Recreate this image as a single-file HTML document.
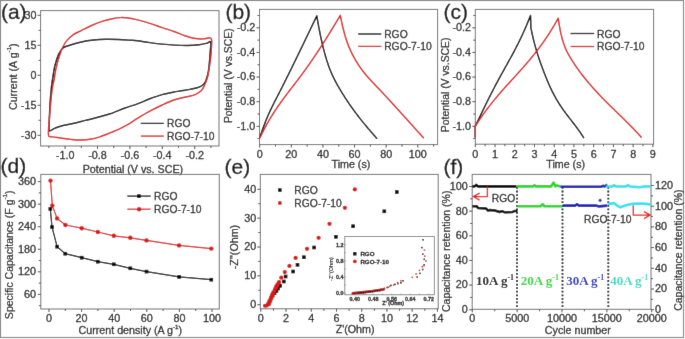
<!DOCTYPE html>
<html><head><meta charset="utf-8"><title>Figure</title>
<style>
html,body{margin:0;padding:0;background:#fff;overflow:hidden;}
svg{display:block;will-change:transform;}
text{font-family:"Liberation Sans",sans-serif;stroke-width:0.28px;}
</style></head><body>
<svg xmlns="http://www.w3.org/2000/svg" width="685" height="339" viewBox="0 0 685 339">
<defs><filter id="soft" x="0" y="0" width="685" height="339" filterUnits="userSpaceOnUse"><feConvolveMatrix order="3" kernelMatrix="0.00524 0.06192 0.00524 0.06192 0.73137 0.06192 0.00524 0.06192 0.00524" edgeMode="duplicate"/></filter></defs>
<g filter="url(#soft)">
<rect x="0" y="0" width="685" height="339" fill="#fff"/>
<rect x="0.5" y="0.5" width="683" height="337" fill="none" stroke="#8a8a8a" stroke-width="1.2"/>
<rect x="40.6" y="10.6" width="178.4" height="135.4" fill="none" stroke="#707070" stroke-width="1"/>
<path d="M65.1,146v3M97.5,146v3M129.9,146v3M162.3,146v3M194.7,146v3" stroke="#4a4a4a" stroke-width="1"/>
<path d="M48.9,146v2M81.3,146v2M113.7,146v2M146.1,146v2M178.5,146v2M210.9,146v2" stroke="#4a4a4a" stroke-width="1"/>
<path d="M40.6,135.3h-3M40.6,105.3h-3M40.6,75.3h-3M40.6,45.3h-3M40.6,15.3h-3" stroke="#4a4a4a" stroke-width="1"/>
<path d="M40.6,120.3h-2M40.6,90.3h-2M40.6,60.3h-2M40.6,30.3h-2" stroke="#4a4a4a" stroke-width="1"/>
<text x="36.4" y="138.65" font-size="10.8" text-anchor="end" fill="#1a1a1a" stroke="#1a1a1a">-30</text>
<text x="36.4" y="108.65" font-size="10.8" text-anchor="end" fill="#1a1a1a" stroke="#1a1a1a">-15</text>
<text x="36.4" y="78.65" font-size="10.8" text-anchor="end" fill="#1a1a1a" stroke="#1a1a1a">0</text>
<text x="36.4" y="48.65" font-size="10.8" text-anchor="end" fill="#1a1a1a" stroke="#1a1a1a">15</text>
<text x="36.4" y="18.65" font-size="10.8" text-anchor="end" fill="#1a1a1a" stroke="#1a1a1a">30</text>
<text x="65.1" y="158.5" font-size="10.8" text-anchor="middle" fill="#1a1a1a" stroke="#1a1a1a">-1.0</text>
<text x="97.5" y="158.5" font-size="10.8" text-anchor="middle" fill="#1a1a1a" stroke="#1a1a1a">-0.8</text>
<text x="129.9" y="158.5" font-size="10.8" text-anchor="middle" fill="#1a1a1a" stroke="#1a1a1a">-0.6</text>
<text x="162.3" y="158.5" font-size="10.8" text-anchor="middle" fill="#1a1a1a" stroke="#1a1a1a">-0.4</text>
<text x="194.7" y="158.5" font-size="10.8" text-anchor="middle" fill="#1a1a1a" stroke="#1a1a1a">-0.2</text>
<text x="132.9" y="172.9" font-size="10.7" text-anchor="middle" fill="#1a1a1a" stroke="#1a1a1a">Potential (V vs. SCE)</text>
<text transform="translate(16.5,76.7) rotate(-90)" font-size="10.7" text-anchor="middle" fill="#1a1a1a" stroke="#1a1a1a">Current (A g<tspan font-size="6.2" dy="-5.4">-1</tspan><tspan dy="5.4">)</tspan></text>
<path d="M49.3,130.7C48.43,129.73 49.2,126.62 49.3,122.5C49.4,118.38 49.55,111.85 49.9,106C50.25,100.15 50.95,91.9 51.4,87.4C51.85,82.9 52.02,82.62 52.6,79C53.18,75.38 53.9,69.8 54.9,65.7C55.9,61.6 57.3,57.32 58.6,54.4C59.9,51.48 60.98,49.68 62.7,48.2C64.42,46.72 65.8,46.53 68.9,45.5C72,44.47 77.17,42.92 81.3,42C85.43,41.08 89.58,40.45 93.7,40C97.82,39.55 101.88,39.38 106,39.3C110.12,39.22 114.4,39.35 118.4,39.5C122.4,39.65 126.83,39.98 130,40.2C133.17,40.42 134.1,40.4 137.4,40.8C140.7,41.2 145.67,42.05 149.8,42.6C153.93,43.15 158.07,43.68 162.2,44.1C166.33,44.52 170.47,44.87 174.6,45.1C178.73,45.33 182.87,45.57 187,45.5C191.13,45.43 196.07,45.08 199.4,44.7C202.73,44.32 205.13,43.65 207,43.2C208.87,42.75 210.05,40.65 210.6,42C211.15,43.35 210.58,46.98 210.3,51.3C210.02,55.62 209.35,63.95 208.9,67.9C208.45,71.85 208.15,72.78 207.6,75C207.05,77.22 206.45,79.48 205.6,81.2C204.75,82.92 203.88,84.2 202.5,85.3C201.12,86.4 199.88,87.03 197.3,87.8C194.72,88.57 190.78,89.22 187,89.9C183.22,90.58 178.73,91.12 174.6,91.9C170.47,92.68 166.33,93.45 162.2,94.6C158.07,95.75 153.93,97.25 149.8,98.8C145.67,100.35 141.53,102.37 137.4,103.9C133.27,105.43 129.53,106.35 125,108C120.47,109.65 114.73,112.25 110.2,113.8C105.67,115.35 101.93,116.2 97.8,117.3C93.67,118.4 89.53,119.37 85.4,120.4C81.27,121.43 77.13,122.53 73,123.5C68.87,124.47 63.68,125.4 60.6,126.2C57.52,127 56.38,127.55 54.5,128.3C52.62,129.05 50.17,131.67 49.3,130.7Z" fill="none" stroke="#000000" stroke-width="1.45" stroke-linejoin="round"/>
<path d="M48.7,135.9C48.08,134.18 48.5,130.55 48.7,126.6C48.9,122.65 49.45,117.37 49.9,112.2C50.35,107.03 50.92,100.08 51.4,95.6C51.88,91.12 52.37,87.9 52.8,85.3C53.23,82.7 53.45,82.92 54,80C54.55,77.08 55.17,71.9 56.1,67.8C57.03,63.7 58.5,58.83 59.6,55.4C60.7,51.97 61.5,49.67 62.7,47.2C63.9,44.73 65.08,42.67 66.8,40.6C68.52,38.53 70.58,36.47 73,34.8C75.42,33.13 78.2,32.15 81.3,30.6C84.4,29.05 88.15,27.03 91.6,25.5C95.05,23.97 98.55,22.53 102,21.4C105.45,20.27 109.22,19.33 112.3,18.7C115.38,18.07 117.55,17.68 120.5,17.6C123.45,17.52 127.18,17.82 130,18.2C132.82,18.58 134.1,19.03 137.4,19.9C140.7,20.77 145.67,22.12 149.8,23.4C153.93,24.68 158.07,26.22 162.2,27.6C166.33,28.98 170.82,30.33 174.6,31.7C178.38,33.07 181.47,34.67 184.9,35.8C188.33,36.93 192.1,37.98 195.2,38.5C198.3,39.02 201.12,39.02 203.5,38.9C205.88,38.78 208.15,37.7 209.5,37.8C210.85,37.9 211.25,38.3 211.6,39.5C211.95,40.7 211.75,42 211.6,45C211.45,48 211.15,53.35 210.7,57.5C210.25,61.65 209.45,66.57 208.9,69.9C208.35,73.23 208.13,74.93 207.4,77.5C206.67,80.07 205.5,83.13 204.5,85.3C203.5,87.47 202.95,88.95 201.4,90.5C199.85,92.05 197.6,93.57 195.2,94.6C192.8,95.63 190.43,95.83 187,96.7C183.57,97.57 178.73,98.42 174.6,99.8C170.47,101.18 166.33,103.1 162.2,105C158.07,106.9 153.93,108.97 149.8,111.2C145.67,113.43 141.03,116.22 137.4,118.4C133.77,120.58 130.82,122.65 128,124.3C125.18,125.95 123.47,126.88 120.5,128.3C117.53,129.72 113.63,131.37 110.2,132.8C106.77,134.23 103,135.87 99.9,136.9C96.8,137.93 94.7,138.48 91.6,139C88.5,139.52 84.73,139.93 81.3,140C77.87,140.07 74.45,139.73 71,139.4C67.55,139.07 63.7,138.42 60.6,138C57.5,137.58 54.38,137.25 52.4,136.9C50.42,136.55 49.32,137.62 48.7,135.9Z" fill="none" stroke="#dc1818" stroke-width="1.45" stroke-linejoin="round"/>
<path d="M140.8,123.4H163.8" stroke="#000000" stroke-width="1.3"/>
<path d="M140.8,136.1H163.8" stroke="#dc1818" stroke-width="1.3"/>
<text x="167" y="126.8" font-size="10.3" text-anchor="start" fill="#1a1a1a" stroke="#1a1a1a">RGO</text>
<text x="167" y="139.5" font-size="10.3" text-anchor="start" fill="#1a1a1a" stroke="#1a1a1a">RGO-7-10</text>
<rect x="259.5" y="9.4" width="178.1" height="135.2" fill="none" stroke="#707070" stroke-width="1"/>
<path d="M259.7,144.6v3M291.32,144.6v3M322.94,144.6v3M354.56,144.6v3M386.18,144.6v3M417.8,144.6v3" stroke="#4a4a4a" stroke-width="1"/>
<path d="M275.51,144.6v2M307.13,144.6v2M338.75,144.6v2M370.37,144.6v2M401.99,144.6v2M433.61,144.6v2" stroke="#4a4a4a" stroke-width="1"/>
<path d="M259.5,126.3h-3M259.5,101.68h-3M259.5,77.06h-3M259.5,52.44h-3M259.5,27.82h-3" stroke="#4a4a4a" stroke-width="1"/>
<path d="M259.5,138.61h-2M259.5,113.99h-2M259.5,89.37h-2M259.5,64.75h-2M259.5,40.13h-2M259.5,15.51h-2" stroke="#4a4a4a" stroke-width="1"/>
<text x="255.3" y="129.65" font-size="10.8" text-anchor="end" fill="#1a1a1a" stroke="#1a1a1a">-1.0</text>
<text x="255.3" y="105.03" font-size="10.8" text-anchor="end" fill="#1a1a1a" stroke="#1a1a1a">-0.8</text>
<text x="255.3" y="80.41" font-size="10.8" text-anchor="end" fill="#1a1a1a" stroke="#1a1a1a">-0.6</text>
<text x="255.3" y="55.79" font-size="10.8" text-anchor="end" fill="#1a1a1a" stroke="#1a1a1a">-0.4</text>
<text x="255.3" y="31.17" font-size="10.8" text-anchor="end" fill="#1a1a1a" stroke="#1a1a1a">-0.2</text>
<text x="259.7" y="157.5" font-size="10.8" text-anchor="middle" fill="#1a1a1a" stroke="#1a1a1a">0</text>
<text x="291.32" y="157.5" font-size="10.8" text-anchor="middle" fill="#1a1a1a" stroke="#1a1a1a">20</text>
<text x="322.94" y="157.5" font-size="10.8" text-anchor="middle" fill="#1a1a1a" stroke="#1a1a1a">40</text>
<text x="354.56" y="157.5" font-size="10.8" text-anchor="middle" fill="#1a1a1a" stroke="#1a1a1a">60</text>
<text x="386.18" y="157.5" font-size="10.8" text-anchor="middle" fill="#1a1a1a" stroke="#1a1a1a">80</text>
<text x="417.8" y="157.5" font-size="10.8" text-anchor="middle" fill="#1a1a1a" stroke="#1a1a1a">100</text>
<text transform="translate(232,75.75) rotate(-90)" font-size="10.4" text-anchor="middle" fill="#1a1a1a" stroke="#1a1a1a">Potential (V vs.SCE)</text>
<text x="350.9" y="167.6" font-size="10.7" text-anchor="middle" fill="#1a1a1a" stroke="#1a1a1a">Time (s)</text>
<path d="M259.8,138.05 L260.2,136.74 L260.6,135.47 L261,134.21 L261.41,132.98 L261.81,131.78 L262.21,130.59 L262.61,129.43 L263.01,128.29 L263.41,127.17 L263.81,126.06 L264.22,124.98 L264.62,123.92 L265.02,122.88 L265.42,121.85 L265.82,120.84 L266.22,119.84 L266.62,118.87 L267.03,117.9 L267.43,116.96 L267.83,116.02 L268.23,115.1 L268.63,114.19 L269.03,113.3 L269.43,112.41 L269.84,111.54 L270.24,110.67 L270.64,109.82 L271.04,108.98 L271.44,108.14 L271.84,107.31 L272.24,106.49 L272.65,105.68 L273.05,104.87 L273.45,104.07 L273.85,103.27 L274.25,102.47 L274.65,101.68 L275.05,100.9 L275.45,100.11 L275.86,99.33 L276.26,98.55 L276.66,97.77 L277.06,96.99 L277.46,96.21 L277.86,95.43 L278.26,94.64 L278.67,93.86 L279.07,93.07 L279.47,92.28 L279.87,91.5 L280.27,90.71 L280.67,89.92 L281.07,89.13 L281.48,88.33 L281.88,87.54 L282.28,86.75 L282.68,85.95 L283.08,85.15 L283.48,84.35 L283.88,83.56 L284.29,82.76 L284.69,81.96 L285.09,81.15 L285.49,80.35 L285.89,79.55 L286.29,78.74 L286.69,77.94 L287.1,77.13 L287.5,76.32 L287.9,75.51 L288.3,74.71 L288.7,73.9 L289.1,73.08 L289.5,72.27 L289.91,71.46 L290.31,70.65 L290.71,69.83 L291.11,69.02 L291.51,68.2 L291.91,67.39 L292.31,66.57 L292.72,65.75 L293.12,64.93 L293.52,64.11 L293.92,63.29 L294.32,62.47 L294.72,61.65 L295.12,60.83 L295.53,60.01 L295.93,59.19 L296.33,58.36 L296.73,57.54 L297.13,56.71 L297.53,55.89 L297.93,55.06 L298.34,54.24 L298.74,53.41 L299.14,52.58 L299.54,51.75 L299.94,50.93 L300.34,50.1 L300.74,49.27 L301.15,48.44 L301.55,47.61 L301.95,46.78 L302.35,45.95 L302.75,45.12 L303.15,44.28 L303.55,43.45 L303.95,42.62 L304.36,41.79 L304.76,40.96 L305.16,40.12 L305.56,39.29 L305.96,38.46 L306.36,37.62 L306.76,36.79 L307.17,35.95 L307.57,35.12 L307.97,34.28 L308.37,33.45 L308.77,32.61 L309.17,31.78 L309.57,30.94 L309.98,30.11 L310.38,29.27 L310.78,28.44 L311.18,27.6 L311.58,26.77 L311.98,25.93 L312.38,25.09 L312.79,24.26 L313.19,23.42 L313.59,22.59 L313.99,21.75 L314.39,20.91 L314.79,20.08 L315.19,19.24 L315.6,18.41 L316,17.57 L316.4,16.74 L316.8,15.9 L316.8,15.96 L317.2,18.35 L317.61,20.68 L318.01,22.95 L318.41,25.17 L318.81,27.33 L319.22,29.44 L319.62,31.49 L320.02,33.5 L320.42,35.45 L320.83,37.36 L321.23,39.21 L321.63,41.02 L322.03,42.78 L322.44,44.5 L322.84,46.17 L323.24,47.79 L323.65,49.38 L324.05,50.92 L324.45,52.42 L324.85,53.89 L325.26,55.31 L325.66,56.69 L326.06,58.04 L326.46,59.36 L326.87,60.63 L327.27,61.88 L327.67,63.09 L328.07,64.27 L328.48,65.42 L328.88,66.54 L329.28,67.63 L329.69,68.69 L330.09,69.72 L330.49,70.73 L330.89,71.71 L331.3,72.67 L331.7,73.61 L332.1,74.52 L332.5,75.42 L332.91,76.29 L333.31,77.15 L333.71,77.98 L334.11,78.8 L334.52,79.6 L334.92,80.39 L335.32,81.16 L335.73,81.92 L336.13,82.67 L336.53,83.41 L336.93,84.14 L337.34,84.85 L337.74,85.56 L338.14,86.26 L338.54,86.96 L338.95,87.65 L339.35,88.33 L339.75,89.02 L340.15,89.69 L340.56,90.36 L340.96,91.03 L341.36,91.7 L341.77,92.36 L342.17,93.01 L342.57,93.66 L342.97,94.31 L343.38,94.95 L343.78,95.59 L344.18,96.23 L344.58,96.86 L344.99,97.49 L345.39,98.11 L345.79,98.73 L346.19,99.34 L346.6,99.96 L347,100.57 L347.4,101.17 L347.81,101.77 L348.21,102.37 L348.61,102.96 L349.01,103.55 L349.42,104.14 L349.82,104.73 L350.22,105.31 L350.62,105.88 L351.03,106.46 L351.43,107.03 L351.83,107.6 L352.23,108.16 L352.64,108.72 L353.04,109.28 L353.44,109.84 L353.85,110.39 L354.25,110.94 L354.65,111.49 L355.05,112.03 L355.46,112.57 L355.86,113.11 L356.26,113.65 L356.66,114.18 L357.07,114.71 L357.47,115.24 L357.87,115.77 L358.27,116.29 L358.68,116.81 L359.08,117.33 L359.48,117.84 L359.89,118.36 L360.29,118.87 L360.69,119.38 L361.09,119.88 L361.5,120.39 L361.9,120.89 L362.3,121.39 L362.7,121.89 L363.11,122.39 L363.51,122.88 L363.91,123.37 L364.31,123.86 L364.72,124.35 L365.12,124.84 L365.52,125.32 L365.93,125.81 L366.33,126.29 L366.73,126.77 L367.13,127.25 L367.54,127.73 L367.94,128.2 L368.34,128.68 L368.74,129.15 L369.15,129.62 L369.55,130.09 L369.95,130.56 L370.35,131.03 L370.76,131.49 L371.16,131.96 L371.56,132.42 L371.97,132.89 L372.37,133.35 L372.77,133.81 L373.17,134.27 L373.58,134.73 L373.98,135.19 L374.38,135.65 L374.78,136.1 L375.19,136.56 L375.59,137.01 L375.99,137.47 L376.39,137.92 L376.8,138.38 L377.2,138.83" fill="none" stroke="#000000" stroke-width="1.45" stroke-linejoin="round"/>
<path d="M259.8,137.99 L260.2,137.14 L260.6,136.29 L261,135.46 L261.4,134.63 L261.8,133.82 L262.2,133.01 L262.6,132.21 L263,131.42 L263.4,130.63 L263.8,129.86 L264.21,129.09 L264.61,128.33 L265.01,127.58 L265.41,126.83 L265.81,126.09 L266.21,125.36 L266.61,124.64 L267.01,123.92 L267.41,123.21 L267.81,122.51 L268.21,121.81 L268.61,121.12 L269.01,120.43 L269.41,119.75 L269.81,119.08 L270.21,118.41 L270.61,117.75 L271.01,117.09 L271.41,116.44 L271.81,115.79 L272.22,115.14 L272.62,114.51 L273.02,113.87 L273.42,113.24 L273.82,112.62 L274.22,112 L274.62,111.38 L275.02,110.77 L275.42,110.16 L275.82,109.56 L276.22,108.96 L276.62,108.37 L277.02,107.77 L277.42,107.18 L277.82,106.6 L278.22,106.02 L278.62,105.44 L279.02,104.86 L279.42,104.29 L279.82,103.72 L280.23,103.16 L280.63,102.59 L281.03,102.03 L281.43,101.48 L281.83,100.92 L282.23,100.37 L282.63,99.82 L283.03,99.27 L283.43,98.72 L283.83,98.18 L284.23,97.64 L284.63,97.1 L285.03,96.56 L285.43,96.03 L285.83,95.49 L286.23,94.96 L286.63,94.43 L287.03,93.9 L287.43,93.37 L287.83,92.85 L288.24,92.32 L288.64,91.8 L289.04,91.27 L289.44,90.75 L289.84,90.23 L290.24,89.71 L290.64,89.19 L291.04,88.67 L291.44,88.15 L291.84,87.63 L292.24,87.11 L292.64,86.59 L293.04,86.07 L293.44,85.55 L293.84,85.03 L294.24,84.51 L294.64,83.99 L295.04,83.47 L295.44,82.95 L295.84,82.43 L296.25,81.91 L296.65,81.39 L297.05,80.86 L297.45,80.34 L297.85,79.81 L298.25,79.29 L298.65,78.76 L299.05,78.23 L299.45,77.7 L299.85,77.17 L300.25,76.64 L300.65,76.1 L301.05,75.56 L301.45,75.03 L301.85,74.48 L302.25,73.94 L302.65,73.4 L303.05,72.85 L303.45,72.3 L303.85,71.76 L304.26,71.2 L304.66,70.65 L305.06,70.1 L305.46,69.54 L305.86,68.98 L306.26,68.42 L306.66,67.86 L307.06,67.3 L307.46,66.73 L307.86,66.16 L308.26,65.59 L308.66,65.02 L309.06,64.45 L309.46,63.88 L309.86,63.3 L310.26,62.73 L310.66,62.15 L311.06,61.57 L311.46,60.99 L311.86,60.4 L312.27,59.82 L312.67,59.23 L313.07,58.64 L313.47,58.05 L313.87,57.46 L314.27,56.87 L314.67,56.27 L315.07,55.68 L315.47,55.08 L315.87,54.48 L316.27,53.88 L316.67,53.28 L317.07,52.67 L317.47,52.07 L317.87,51.46 L318.27,50.85 L318.67,50.24 L319.07,49.63 L319.47,49.02 L319.87,48.4 L320.28,47.79 L320.68,47.17 L321.08,46.55 L321.48,45.93 L321.88,45.31 L322.28,44.69 L322.68,44.06 L323.08,43.44 L323.48,42.81 L323.88,42.18 L324.28,41.55 L324.68,40.92 L325.08,40.29 L325.48,39.66 L325.88,39.02 L326.28,38.39 L326.68,37.75 L327.08,37.11 L327.48,36.47 L327.88,35.83 L328.29,35.19 L328.69,34.54 L329.09,33.9 L329.49,33.25 L329.89,32.6 L330.29,31.95 L330.69,31.3 L331.09,30.65 L331.49,30 L331.89,29.35 L332.29,28.69 L332.69,28.04 L333.09,27.38 L333.49,26.72 L333.89,26.06 L334.29,25.4 L334.69,24.74 L335.09,24.08 L335.49,23.41 L335.89,22.75 L336.3,22.08 L336.7,21.41 L337.1,20.74 L337.5,20.08 L337.9,19.4 L338.3,18.73 L338.7,18.06 L339.1,17.39 L339.5,16.71 L339.9,16.04 L340.3,15.36 L340.3,15.44 L340.7,17.49 L341.1,19.47 L341.5,21.38 L341.91,23.23 L342.31,25.01 L342.71,26.73 L343.11,28.39 L343.51,29.99 L343.91,31.54 L344.31,33.03 L344.72,34.47 L345.12,35.86 L345.52,37.2 L345.92,38.5 L346.32,39.75 L346.72,40.95 L347.12,42.11 L347.53,43.24 L347.93,44.32 L348.33,45.37 L348.73,46.39 L349.13,47.37 L349.53,48.33 L349.93,49.25 L350.34,50.15 L350.74,51.02 L351.14,51.87 L351.54,52.7 L351.94,53.51 L352.34,54.3 L352.74,55.08 L353.15,55.84 L353.55,56.59 L353.95,57.32 L354.35,58.05 L354.75,58.76 L355.15,59.47 L355.55,60.16 L355.96,60.84 L356.36,61.51 L356.76,62.17 L357.16,62.82 L357.56,63.46 L357.96,64.09 L358.36,64.71 L358.77,65.32 L359.17,65.92 L359.57,66.51 L359.97,67.1 L360.37,67.67 L360.77,68.24 L361.18,68.8 L361.58,69.35 L361.98,69.89 L362.38,70.43 L362.78,70.96 L363.18,71.48 L363.58,72 L363.99,72.51 L364.39,73.01 L364.79,73.51 L365.19,74 L365.59,74.48 L365.99,74.97 L366.39,75.44 L366.8,75.91 L367.2,76.38 L367.6,76.84 L368,77.3 L368.4,77.75 L368.8,78.2 L369.2,78.64 L369.61,79.09 L370.01,79.53 L370.41,79.96 L370.81,80.4 L371.21,80.83 L371.61,81.26 L372.01,81.68 L372.42,82.11 L372.82,82.53 L373.22,82.95 L373.62,83.37 L374.02,83.79 L374.42,84.21 L374.82,84.63 L375.23,85.05 L375.63,85.47 L376.03,85.89 L376.43,86.31 L376.83,86.73 L377.23,87.15 L377.63,87.57 L378.04,87.99 L378.44,88.42 L378.84,88.84 L379.24,89.26 L379.64,89.69 L380.04,90.11 L380.44,90.54 L380.85,90.96 L381.25,91.39 L381.65,91.82 L382.05,92.25 L382.45,92.67 L382.85,93.1 L383.25,93.53 L383.66,93.96 L384.06,94.39 L384.46,94.82 L384.86,95.25 L385.26,95.69 L385.66,96.12 L386.06,96.55 L386.47,96.98 L386.87,97.42 L387.27,97.85 L387.67,98.29 L388.07,98.72 L388.47,99.16 L388.87,99.59 L389.28,100.03 L389.68,100.46 L390.08,100.9 L390.48,101.34 L390.88,101.78 L391.28,102.21 L391.68,102.65 L392.09,103.09 L392.49,103.53 L392.89,103.97 L393.29,104.41 L393.69,104.85 L394.09,105.29 L394.49,105.73 L394.9,106.17 L395.3,106.61 L395.7,107.05 L396.1,107.49 L396.5,107.94 L396.9,108.38 L397.3,108.82 L397.71,109.26 L398.11,109.71 L398.51,110.15 L398.91,110.59 L399.31,111.04 L399.71,111.48 L400.11,111.92 L400.52,112.37 L400.92,112.81 L401.32,113.26 L401.72,113.7 L402.12,114.15 L402.52,114.59 L402.93,115.04 L403.33,115.48 L403.73,115.93 L404.13,116.37 L404.53,116.82 L404.93,117.26 L405.33,117.71 L405.74,118.15 L406.14,118.6 L406.54,119.05 L406.94,119.49 L407.34,119.94 L407.74,120.38 L408.14,120.83 L408.55,121.28 L408.95,121.72 L409.35,122.17 L409.75,122.62 L410.15,123.06 L410.55,123.51 L410.95,123.96 L411.36,124.4 L411.76,124.85 L412.16,125.29 L412.56,125.74 L412.96,126.19 L413.36,126.63 L413.76,127.08 L414.17,127.52 L414.57,127.97 L414.97,128.42 L415.37,128.86 L415.77,129.31 L416.17,129.75 L416.57,130.2 L416.98,130.64 L417.38,131.09 L417.78,131.53 L418.18,131.98 L418.58,132.42 L418.98,132.87 L419.38,133.31 L419.79,133.76 L420.19,134.2 L420.59,134.64 L420.99,135.09 L421.39,135.53 L421.79,135.97 L422.19,136.42 L422.6,136.86 L423,137.3 L423.4,137.74 L423.8,138.19" fill="none" stroke="#dc1818" stroke-width="1.45" stroke-linejoin="round"/>
<path d="M358.2,34H381.3" stroke="#000000" stroke-width="1.3"/>
<path d="M358.2,46.4H381.3" stroke="#dc1818" stroke-width="1.3"/>
<text x="384.2" y="37.7" font-size="10.3" text-anchor="start" fill="#1a1a1a" stroke="#1a1a1a">RGO</text>
<text x="384.2" y="50.2" font-size="10.3" text-anchor="start" fill="#1a1a1a" stroke="#1a1a1a">RGO-7-10</text>
<rect x="475.3" y="9.4" width="178.3" height="134.8" fill="none" stroke="#707070" stroke-width="1"/>
<path d="M475.3,144.2v3M495.03,144.2v3M514.76,144.2v3M534.49,144.2v3M554.22,144.2v3M573.95,144.2v3M593.68,144.2v3M613.41,144.2v3M633.14,144.2v3M652.87,144.2v3" stroke="#4a4a4a" stroke-width="1"/>
<path d="M485.17,144.2v2M504.89,144.2v2M524.62,144.2v2M544.36,144.2v2M564.09,144.2v2M583.82,144.2v2M603.55,144.2v2M623.27,144.2v2M643,144.2v2" stroke="#4a4a4a" stroke-width="1"/>
<path d="M475.3,126.3h-3M475.3,101.68h-3M475.3,77.06h-3M475.3,52.44h-3M475.3,27.82h-3" stroke="#4a4a4a" stroke-width="1"/>
<path d="M475.3,138.61h-2M475.3,113.99h-2M475.3,89.37h-2M475.3,64.75h-2M475.3,40.13h-2M475.3,15.51h-2" stroke="#4a4a4a" stroke-width="1"/>
<text x="471" y="129.65" font-size="10.8" text-anchor="end" fill="#1a1a1a" stroke="#1a1a1a">-1.0</text>
<text x="471" y="105.03" font-size="10.8" text-anchor="end" fill="#1a1a1a" stroke="#1a1a1a">-0.8</text>
<text x="471" y="80.41" font-size="10.8" text-anchor="end" fill="#1a1a1a" stroke="#1a1a1a">-0.6</text>
<text x="471" y="55.79" font-size="10.8" text-anchor="end" fill="#1a1a1a" stroke="#1a1a1a">-0.4</text>
<text x="471" y="31.17" font-size="10.8" text-anchor="end" fill="#1a1a1a" stroke="#1a1a1a">-0.2</text>
<text x="475.3" y="157.5" font-size="10.8" text-anchor="middle" fill="#1a1a1a" stroke="#1a1a1a">0</text>
<text x="495.03" y="157.5" font-size="10.8" text-anchor="middle" fill="#1a1a1a" stroke="#1a1a1a">1</text>
<text x="514.76" y="157.5" font-size="10.8" text-anchor="middle" fill="#1a1a1a" stroke="#1a1a1a">2</text>
<text x="534.49" y="157.5" font-size="10.8" text-anchor="middle" fill="#1a1a1a" stroke="#1a1a1a">3</text>
<text x="554.22" y="157.5" font-size="10.8" text-anchor="middle" fill="#1a1a1a" stroke="#1a1a1a">4</text>
<text x="573.95" y="157.5" font-size="10.8" text-anchor="middle" fill="#1a1a1a" stroke="#1a1a1a">5</text>
<text x="593.68" y="157.5" font-size="10.8" text-anchor="middle" fill="#1a1a1a" stroke="#1a1a1a">6</text>
<text x="613.41" y="157.5" font-size="10.8" text-anchor="middle" fill="#1a1a1a" stroke="#1a1a1a">7</text>
<text x="633.14" y="157.5" font-size="10.8" text-anchor="middle" fill="#1a1a1a" stroke="#1a1a1a">8</text>
<text x="652.87" y="157.5" font-size="10.8" text-anchor="middle" fill="#1a1a1a" stroke="#1a1a1a">9</text>
<text transform="translate(449.3,84.85) rotate(-90)" font-size="10.4" text-anchor="middle" fill="#1a1a1a" stroke="#1a1a1a">Potential (V vs.SCE)</text>
<text x="565.7" y="167.6" font-size="10.7" text-anchor="middle" fill="#1a1a1a" stroke="#1a1a1a">Time (s)</text>
<path d="M475.3,137.5 L475.3,126.26 L475.7,125.41 L476.11,124.56 L476.51,123.71 L476.91,122.85 L477.31,122.01 L477.72,121.16 L478.12,120.31 L478.52,119.46 L478.93,118.62 L479.33,117.78 L479.73,116.93 L480.14,116.09 L480.54,115.25 L480.94,114.41 L481.34,113.58 L481.75,112.74 L482.15,111.91 L482.55,111.08 L482.96,110.24 L483.36,109.42 L483.76,108.59 L484.16,107.76 L484.57,106.94 L484.97,106.11 L485.37,105.29 L485.78,104.47 L486.18,103.66 L486.58,102.84 L486.98,102.03 L487.39,101.21 L487.79,100.4 L488.19,99.6 L488.6,98.79 L489,97.99 L489.4,97.18 L489.81,96.38 L490.21,95.59 L490.61,94.79 L491.01,94 L491.42,93.2 L491.82,92.42 L492.22,91.63 L492.63,90.84 L493.03,90.06 L493.43,89.28 L493.83,88.5 L494.24,87.73 L494.64,86.96 L495.04,86.18 L495.45,85.42 L495.85,84.65 L496.25,83.89 L496.65,83.13 L497.06,82.37 L497.46,81.62 L497.86,80.86 L498.27,80.12 L498.67,79.37 L499.07,78.62 L499.48,77.88 L499.88,77.14 L500.28,76.41 L500.68,75.67 L501.09,74.94 L501.49,74.21 L501.89,73.48 L502.3,72.75 L502.7,72.03 L503.1,71.3 L503.5,70.58 L503.91,69.86 L504.31,69.13 L504.71,68.41 L505.12,67.69 L505.52,66.97 L505.92,66.25 L506.32,65.52 L506.73,64.8 L507.13,64.08 L507.53,63.36 L507.94,62.63 L508.34,61.91 L508.74,61.18 L509.15,60.45 L509.55,59.72 L509.95,58.99 L510.35,58.26 L510.76,57.52 L511.16,56.79 L511.56,56.05 L511.97,55.3 L512.37,54.56 L512.77,53.81 L513.17,53.06 L513.58,52.31 L513.98,51.55 L514.38,50.79 L514.79,50.02 L515.19,49.25 L515.59,48.48 L515.99,47.71 L516.4,46.92 L516.8,46.14 L517.2,45.35 L517.61,44.55 L518.01,43.75 L518.41,42.95 L518.82,42.14 L519.22,41.32 L519.62,40.5 L520.02,39.67 L520.43,38.84 L520.83,38 L521.23,37.15 L521.64,36.3 L522.04,35.44 L522.44,34.57 L522.84,33.7 L523.25,32.81 L523.65,31.93 L524.05,31.03 L524.46,30.13 L524.86,29.21 L525.26,28.3 L525.66,27.37 L526.07,26.43 L526.47,25.49 L526.87,24.53 L527.28,23.57 L527.68,22.6 L528.08,21.62 L528.49,20.63 L528.89,19.63 L529.29,18.62 L529.69,17.6 L530.1,16.57 L530.5,15.53 L530.9,27.64 L531.3,29.67 L531.7,31.63 L532.1,33.52 L532.51,35.34 L532.91,37.11 L533.31,38.82 L533.71,40.47 L534.11,42.07 L534.51,43.63 L534.92,45.13 L535.32,46.6 L535.72,48.02 L536.12,49.41 L536.52,50.76 L536.92,52.08 L537.32,53.37 L537.73,54.64 L538.13,55.88 L538.53,57.1 L538.93,58.3 L539.33,59.48 L539.73,60.64 L540.13,61.79 L540.54,62.92 L540.94,64.05 L541.34,65.16 L541.74,66.27 L542.14,67.37 L542.54,68.45 L542.95,69.53 L543.35,70.6 L543.75,71.66 L544.15,72.7 L544.55,73.74 L544.95,74.76 L545.35,75.78 L545.76,76.78 L546.16,77.78 L546.56,78.76 L546.96,79.73 L547.36,80.69 L547.76,81.64 L548.17,82.58 L548.57,83.51 L548.97,84.42 L549.37,85.32 L549.77,86.21 L550.17,87.09 L550.57,87.96 L550.98,88.82 L551.38,89.66 L551.78,90.49 L552.18,91.31 L552.58,92.11 L552.98,92.91 L553.38,93.69 L553.79,94.46 L554.19,95.22 L554.59,95.96 L554.99,96.7 L555.39,97.42 L555.79,98.14 L556.2,98.84 L556.6,99.54 L557,100.22 L557.4,100.89 L557.8,101.56 L558.2,102.22 L558.6,102.87 L559.01,103.51 L559.41,104.14 L559.81,104.76 L560.21,105.38 L560.61,105.99 L561.01,106.59 L561.42,107.18 L561.82,107.77 L562.22,108.36 L562.62,108.93 L563.02,109.5 L563.42,110.07 L563.82,110.63 L564.23,111.19 L564.63,111.74 L565.03,112.28 L565.43,112.83 L565.83,113.37 L566.23,113.9 L566.63,114.43 L567.04,114.96 L567.44,115.49 L567.84,116.01 L568.24,116.54 L568.64,117.06 L569.04,117.58 L569.45,118.09 L569.85,118.61 L570.25,119.12 L570.65,119.64 L571.05,120.15 L571.45,120.67 L571.85,121.18 L572.26,121.7 L572.66,122.22 L573.06,122.73 L573.46,123.25 L573.86,123.77 L574.26,124.3 L574.67,124.82 L575.07,125.35 L575.47,125.88 L575.87,126.41 L576.27,126.95 L576.67,127.48 L577.07,128.03 L577.48,128.58 L577.88,129.13 L578.28,129.68 L578.68,130.24 L579.08,130.81 L579.48,131.38 L579.88,131.96 L580.29,132.54 L580.69,133.13 L581.09,133.73 L581.49,134.33 L581.89,134.94 L582.29,135.56 L582.7,136.18 L583.1,136.81 L583.5,137.45 L583.9,138.1" fill="none" stroke="#000000" stroke-width="1.45" stroke-linejoin="round"/>
<path d="M475.3,137.5 L475.3,126.25 L475.7,125.62 L476.1,124.98 L476.5,124.35 L476.9,123.73 L477.3,123.1 L477.7,122.49 L478.1,121.87 L478.5,121.26 L478.9,120.66 L479.3,120.06 L479.71,119.46 L480.11,118.87 L480.51,118.28 L480.91,117.69 L481.31,117.11 L481.71,116.53 L482.11,115.95 L482.51,115.38 L482.91,114.81 L483.31,114.24 L483.71,113.68 L484.11,113.12 L484.51,112.57 L484.91,112.02 L485.31,111.47 L485.71,110.92 L486.11,110.38 L486.51,109.84 L486.91,109.3 L487.31,108.77 L487.71,108.24 L488.12,107.71 L488.52,107.19 L488.92,106.66 L489.32,106.14 L489.72,105.63 L490.12,105.11 L490.52,104.6 L490.92,104.09 L491.32,103.59 L491.72,103.08 L492.12,102.58 L492.52,102.08 L492.92,101.58 L493.32,101.09 L493.72,100.6 L494.12,100.11 L494.52,99.62 L494.92,99.13 L495.32,98.65 L495.72,98.17 L496.13,97.69 L496.53,97.21 L496.93,96.73 L497.33,96.26 L497.73,95.79 L498.13,95.31 L498.53,94.85 L498.93,94.38 L499.33,93.91 L499.73,93.45 L500.13,92.98 L500.53,92.52 L500.93,92.06 L501.33,91.6 L501.73,91.15 L502.13,90.69 L502.53,90.24 L502.93,89.78 L503.33,89.33 L503.73,88.88 L504.13,88.43 L504.54,87.98 L504.94,87.53 L505.34,87.08 L505.74,86.64 L506.14,86.19 L506.54,85.75 L506.94,85.3 L507.34,84.86 L507.74,84.42 L508.14,83.98 L508.54,83.53 L508.94,83.09 L509.34,82.65 L509.74,82.21 L510.14,81.77 L510.54,81.33 L510.94,80.89 L511.34,80.45 L511.74,80.02 L512.14,79.58 L512.54,79.14 L512.95,78.7 L513.35,78.26 L513.75,77.82 L514.15,77.38 L514.55,76.94 L514.95,76.51 L515.35,76.07 L515.75,75.63 L516.15,75.19 L516.55,74.75 L516.95,74.31 L517.35,73.87 L517.75,73.42 L518.15,72.98 L518.55,72.54 L518.95,72.1 L519.35,71.65 L519.75,71.21 L520.15,70.76 L520.55,70.32 L520.96,69.87 L521.36,69.42 L521.76,68.97 L522.16,68.52 L522.56,68.07 L522.96,67.62 L523.36,67.17 L523.76,66.71 L524.16,66.26 L524.56,65.8 L524.96,65.34 L525.36,64.88 L525.76,64.42 L526.16,63.96 L526.56,63.49 L526.96,63.03 L527.36,62.56 L527.76,62.09 L528.16,61.62 L528.56,61.15 L528.96,60.68 L529.37,60.2 L529.77,59.72 L530.17,59.24 L530.57,58.76 L530.97,58.28 L531.37,57.79 L531.77,57.31 L532.17,56.82 L532.57,56.32 L532.97,55.83 L533.37,55.33 L533.77,54.84 L534.17,54.33 L534.57,53.83 L534.97,53.33 L535.37,52.82 L535.77,52.31 L536.17,51.79 L536.57,51.28 L536.97,50.76 L537.37,50.24 L537.78,49.71 L538.18,49.18 L538.58,48.65 L538.98,48.12 L539.38,47.59 L539.78,47.05 L540.18,46.51 L540.58,45.96 L540.98,45.41 L541.38,44.86 L541.78,44.31 L542.18,43.75 L542.58,43.19 L542.98,42.62 L543.38,42.05 L543.78,41.48 L544.18,40.91 L544.58,40.33 L544.98,39.75 L545.38,39.16 L545.79,38.57 L546.19,37.98 L546.59,37.38 L546.99,36.78 L547.39,36.18 L547.79,35.57 L548.19,34.96 L548.59,34.34 L548.99,33.72 L549.39,33.1 L549.79,32.47 L550.19,31.84 L550.59,31.2 L550.99,30.56 L551.39,29.91 L551.79,29.26 L552.19,28.61 L552.59,27.95 L552.99,27.28 L553.39,26.62 L553.79,25.94 L554.2,25.27 L554.6,24.59 L555,23.9 L555.4,23.21 L555.8,22.51 L556.2,21.81 L556.6,21.1 L557,20.39 L557.4,19.68 L557.8,18.96 L558.2,18.23 L558.2,18.3 L558.6,20.97 L559,23.48 L559.4,25.84 L559.8,28.05 L560.2,30.12 L560.61,32.06 L561.01,33.89 L561.41,35.6 L561.81,37.21 L562.21,38.72 L562.61,40.14 L563.01,41.49 L563.41,42.76 L563.81,43.97 L564.21,45.11 L564.62,46.2 L565.02,47.23 L565.42,48.22 L565.82,49.15 L566.22,50.04 L566.62,50.9 L567.02,51.71 L567.42,52.5 L567.82,53.26 L568.22,53.99 L568.62,54.7 L569.03,55.4 L569.43,56.08 L569.83,56.76 L570.23,57.43 L570.63,58.09 L571.03,58.75 L571.43,59.4 L571.83,60.04 L572.23,60.68 L572.63,61.31 L573.04,61.94 L573.44,62.56 L573.84,63.18 L574.24,63.79 L574.64,64.4 L575.04,65 L575.44,65.59 L575.84,66.18 L576.24,66.77 L576.64,67.35 L577.05,67.92 L577.45,68.49 L577.85,69.06 L578.25,69.62 L578.65,70.18 L579.05,70.73 L579.45,71.28 L579.85,71.82 L580.25,72.36 L580.65,72.9 L581.05,73.43 L581.46,73.96 L581.86,74.48 L582.26,75.01 L582.66,75.52 L583.06,76.04 L583.46,76.55 L583.86,77.06 L584.26,77.56 L584.66,78.06 L585.06,78.56 L585.47,79.06 L585.87,79.55 L586.27,80.04 L586.67,80.53 L587.07,81.01 L587.47,81.49 L587.87,81.97 L588.27,82.45 L588.67,82.92 L589.07,83.4 L589.48,83.87 L589.88,84.33 L590.28,84.8 L590.68,85.26 L591.08,85.72 L591.48,86.18 L591.88,86.64 L592.28,87.1 L592.68,87.55 L593.08,88 L593.48,88.45 L593.89,88.89 L594.29,89.34 L594.69,89.78 L595.09,90.22 L595.49,90.66 L595.89,91.1 L596.29,91.54 L596.69,91.97 L597.09,92.4 L597.49,92.83 L597.9,93.26 L598.3,93.69 L598.7,94.11 L599.1,94.54 L599.5,94.96 L599.9,95.38 L600.3,95.8 L600.7,96.22 L601.1,96.64 L601.5,97.05 L601.9,97.47 L602.31,97.88 L602.71,98.29 L603.11,98.7 L603.51,99.11 L603.91,99.52 L604.31,99.93 L604.71,100.34 L605.11,100.74 L605.51,101.15 L605.91,101.55 L606.32,101.95 L606.72,102.35 L607.12,102.75 L607.52,103.15 L607.92,103.55 L608.32,103.95 L608.72,104.35 L609.12,104.75 L609.52,105.14 L609.92,105.54 L610.33,105.93 L610.73,106.33 L611.13,106.72 L611.53,107.11 L611.93,107.51 L612.33,107.9 L612.73,108.29 L613.13,108.68 L613.53,109.07 L613.93,109.46 L614.33,109.85 L614.74,110.24 L615.14,110.64 L615.54,111.03 L615.94,111.42 L616.34,111.8 L616.74,112.19 L617.14,112.58 L617.54,112.97 L617.94,113.36 L618.34,113.75 L618.75,114.14 L619.15,114.53 L619.55,114.92 L619.95,115.31 L620.35,115.7 L620.75,116.1 L621.15,116.49 L621.55,116.88 L621.95,117.27 L622.35,117.66 L622.75,118.06 L623.16,118.45 L623.56,118.84 L623.96,119.24 L624.36,119.63 L624.76,120.03 L625.16,120.42 L625.56,120.82 L625.96,121.22 L626.36,121.61 L626.76,122.01 L627.17,122.41 L627.57,122.81 L627.97,123.21 L628.37,123.62 L628.77,124.02 L629.17,124.42 L629.57,124.83 L629.97,125.23 L630.37,125.64 L630.77,126.05 L631.18,126.46 L631.58,126.87 L631.98,127.28 L632.38,127.69 L632.78,128.11 L633.18,128.52 L633.58,128.94 L633.98,129.36 L634.38,129.78 L634.78,130.2 L635.18,130.62 L635.59,131.05 L635.99,131.47 L636.39,131.9 L636.79,132.33 L637.19,132.76 L637.59,133.19 L637.99,133.62 L638.39,134.06 L638.79,134.49 L639.19,134.93 L639.6,135.37 L640,135.82 L640.4,136.26 L640.8,136.71 L641.2,137.16 L641.6,137.61" fill="none" stroke="#dc1818" stroke-width="1.45" stroke-linejoin="round"/>
<path d="M570.6,33.5H594.2" stroke="#000000" stroke-width="1.3"/>
<path d="M570.6,46.5H594.2" stroke="#dc1818" stroke-width="1.3"/>
<text x="597" y="37.6" font-size="10.3" text-anchor="start" fill="#1a1a1a" stroke="#1a1a1a">RGO</text>
<text x="597" y="50.3" font-size="10.3" text-anchor="start" fill="#1a1a1a" stroke="#1a1a1a">RGO-7-10</text>
<rect x="40.8" y="174.4" width="178.5" height="134.6" fill="none" stroke="#707070" stroke-width="1"/>
<path d="M49,309v3M81.6,309v3M114.2,309v3M146.8,309v3M179.4,309v3M212,309v3" stroke="#4a4a4a" stroke-width="1"/>
<path d="M65.3,309v2M97.9,309v2M130.5,309v2M163.1,309v2M195.7,309v2" stroke="#4a4a4a" stroke-width="1"/>
<path d="M40.8,294.4h-3M40.8,271.84h-3M40.8,249.28h-3M40.8,226.72h-3M40.8,204.16h-3M40.8,181.6h-3" stroke="#4a4a4a" stroke-width="1"/>
<path d="M40.8,305.68h-2M40.8,283.12h-2M40.8,260.56h-2M40.8,238h-2M40.8,215.44h-2M40.8,192.88h-2" stroke="#4a4a4a" stroke-width="1"/>
<text x="36" y="297.75" font-size="10.8" text-anchor="end" fill="#1a1a1a" stroke="#1a1a1a">60</text>
<text x="36" y="275.19" font-size="10.8" text-anchor="end" fill="#1a1a1a" stroke="#1a1a1a">120</text>
<text x="36" y="252.63" font-size="10.8" text-anchor="end" fill="#1a1a1a" stroke="#1a1a1a">180</text>
<text x="36" y="230.07" font-size="10.8" text-anchor="end" fill="#1a1a1a" stroke="#1a1a1a">240</text>
<text x="36" y="207.51" font-size="10.8" text-anchor="end" fill="#1a1a1a" stroke="#1a1a1a">300</text>
<text x="36" y="184.95" font-size="10.8" text-anchor="end" fill="#1a1a1a" stroke="#1a1a1a">360</text>
<text x="49" y="322.3" font-size="10.8" text-anchor="middle" fill="#1a1a1a" stroke="#1a1a1a">0</text>
<text x="81.6" y="322.3" font-size="10.8" text-anchor="middle" fill="#1a1a1a" stroke="#1a1a1a">20</text>
<text x="114.2" y="322.3" font-size="10.8" text-anchor="middle" fill="#1a1a1a" stroke="#1a1a1a">40</text>
<text x="146.8" y="322.3" font-size="10.8" text-anchor="middle" fill="#1a1a1a" stroke="#1a1a1a">60</text>
<text x="179.4" y="322.3" font-size="10.8" text-anchor="middle" fill="#1a1a1a" stroke="#1a1a1a">80</text>
<text x="212" y="322.3" font-size="10.8" text-anchor="middle" fill="#1a1a1a" stroke="#1a1a1a">100</text>
<text x="130.3" y="334" font-size="10.7" text-anchor="middle" fill="#1a1a1a" stroke="#1a1a1a">Current density (A g<tspan font-size="6.2" dy="-5.4">-1</tspan><tspan dy="5.4">)</tspan></text>
<text transform="translate(12.7,254.8) rotate(-90)" font-size="10.5" text-anchor="middle" fill="#1a1a1a" stroke="#1a1a1a">Specific Capacitance (F g<tspan font-size="6.2" dy="-5.4">-1</tspan><tspan dy="5.4">)</tspan></text>
<path d="M50.3,208.9 L52,227 L57.1,246.7 L65.2,253.7 L81.7,257.7 L97.8,261.7 L113.8,264.3 L130.3,268.3 L146.5,271.6 L179.1,276.9 L211.3,279.7" fill="none" stroke="#000000" stroke-width="1.2"/>
<rect x="48.5" y="207.1" width="3.6" height="3.6" fill="#000000"/>
<rect x="50.2" y="225.2" width="3.6" height="3.6" fill="#000000"/>
<rect x="55.3" y="244.9" width="3.6" height="3.6" fill="#000000"/>
<rect x="63.4" y="251.9" width="3.6" height="3.6" fill="#000000"/>
<rect x="79.9" y="255.9" width="3.6" height="3.6" fill="#000000"/>
<rect x="96" y="259.9" width="3.6" height="3.6" fill="#000000"/>
<rect x="112" y="262.5" width="3.6" height="3.6" fill="#000000"/>
<rect x="128.5" y="266.5" width="3.6" height="3.6" fill="#000000"/>
<rect x="144.7" y="269.8" width="3.6" height="3.6" fill="#000000"/>
<rect x="177.3" y="275.1" width="3.6" height="3.6" fill="#000000"/>
<rect x="209.5" y="277.9" width="3.6" height="3.6" fill="#000000"/>
<path d="M50.5,180.6 L52.3,205.6 L57.1,218.4 L65.4,225 L81.7,228.2 L97.8,232 L113.8,235.8 L130.3,237.8 L146.5,240.4 L179.1,245.4 L211.3,248.6" fill="none" stroke="#dc1818" stroke-width="1.2"/>
<circle cx="50.5" cy="180.6" r="2.2" fill="#dc1818"/>
<circle cx="52.3" cy="205.6" r="2.2" fill="#dc1818"/>
<circle cx="57.1" cy="218.4" r="2.2" fill="#dc1818"/>
<circle cx="65.4" cy="225" r="2.2" fill="#dc1818"/>
<circle cx="81.7" cy="228.2" r="2.2" fill="#dc1818"/>
<circle cx="97.8" cy="232" r="2.2" fill="#dc1818"/>
<circle cx="113.8" cy="235.8" r="2.2" fill="#dc1818"/>
<circle cx="130.3" cy="237.8" r="2.2" fill="#dc1818"/>
<circle cx="146.5" cy="240.4" r="2.2" fill="#dc1818"/>
<circle cx="179.1" cy="245.4" r="2.2" fill="#dc1818"/>
<circle cx="211.3" cy="248.6" r="2.2" fill="#dc1818"/>
<path d="M127.3,196.1H150.7" stroke="#000000" stroke-width="1.2"/>
<rect x="137.1" y="194.3" width="3.6" height="3.6" fill="#000000"/>
<path d="M127.3,209.2H150.7" stroke="#dc1818" stroke-width="1.2"/>
<circle cx="139.1" cy="209.2" r="2.2" fill="#dc1818"/>
<text x="154" y="199.8" font-size="10.3" text-anchor="start" fill="#1a1a1a" stroke="#1a1a1a">RGO</text>
<text x="154" y="212.9" font-size="10.3" text-anchor="start" fill="#1a1a1a" stroke="#1a1a1a">RGO-7-10</text>
<rect x="260.3" y="174.4" width="177.9" height="134.4" fill="none" stroke="#707070" stroke-width="1"/>
<path d="M260.8,308.8v3M286.03,308.8v3M311.26,308.8v3M336.49,308.8v3M361.72,308.8v3M386.95,308.8v3M412.18,308.8v3M437.41,308.8v3" stroke="#4a4a4a" stroke-width="1"/>
<path d="M273.42,308.8v2M298.64,308.8v2M323.88,308.8v2M349.11,308.8v2M374.34,308.8v2M399.57,308.8v2M424.8,308.8v2" stroke="#4a4a4a" stroke-width="1"/>
<path d="M260.3,304.7h-3M260.3,275.85h-3M260.3,247h-3M260.3,218.15h-3M260.3,189.3h-3" stroke="#4a4a4a" stroke-width="1"/>
<path d="M260.3,290.27h-2M260.3,261.43h-2M260.3,232.58h-2M260.3,203.73h-2" stroke="#4a4a4a" stroke-width="1"/>
<text x="256.3" y="308.05" font-size="10.8" text-anchor="end" fill="#1a1a1a" stroke="#1a1a1a">0</text>
<text x="256.3" y="279.2" font-size="10.8" text-anchor="end" fill="#1a1a1a" stroke="#1a1a1a">10</text>
<text x="256.3" y="250.35" font-size="10.8" text-anchor="end" fill="#1a1a1a" stroke="#1a1a1a">20</text>
<text x="256.3" y="221.5" font-size="10.8" text-anchor="end" fill="#1a1a1a" stroke="#1a1a1a">30</text>
<text x="256.3" y="192.65" font-size="10.8" text-anchor="end" fill="#1a1a1a" stroke="#1a1a1a">40</text>
<text x="260.8" y="322" font-size="10.8" text-anchor="middle" fill="#1a1a1a" stroke="#1a1a1a">0</text>
<text x="286.03" y="322" font-size="10.8" text-anchor="middle" fill="#1a1a1a" stroke="#1a1a1a">2</text>
<text x="311.26" y="322" font-size="10.8" text-anchor="middle" fill="#1a1a1a" stroke="#1a1a1a">4</text>
<text x="336.49" y="322" font-size="10.8" text-anchor="middle" fill="#1a1a1a" stroke="#1a1a1a">6</text>
<text x="361.72" y="322" font-size="10.8" text-anchor="middle" fill="#1a1a1a" stroke="#1a1a1a">8</text>
<text x="386.95" y="322" font-size="10.8" text-anchor="middle" fill="#1a1a1a" stroke="#1a1a1a">10</text>
<text x="412.18" y="322" font-size="10.8" text-anchor="middle" fill="#1a1a1a" stroke="#1a1a1a">12</text>
<text x="437.41" y="322" font-size="10.8" text-anchor="middle" fill="#1a1a1a" stroke="#1a1a1a">14</text>
<text x="355.1" y="333.2" font-size="10.7" text-anchor="middle" fill="#1a1a1a" stroke="#1a1a1a">Z'(Ohm)</text>
<text transform="translate(238,247.1) rotate(-90)" font-size="10.7" text-anchor="middle" fill="#1a1a1a" stroke="#1a1a1a">-Z''(Ohm)</text>
<rect x="395" y="190.2" width="3.6" height="3.6" fill="#000000"/>
<rect x="382.5" y="209.5" width="3.6" height="3.6" fill="#000000"/>
<rect x="351.3" y="224.4" width="3.6" height="3.6" fill="#000000"/>
<rect x="334.1" y="235" width="3.6" height="3.6" fill="#000000"/>
<rect x="312.3" y="245.7" width="3.6" height="3.6" fill="#000000"/>
<rect x="302.1" y="255.4" width="3.6" height="3.6" fill="#000000"/>
<rect x="295.7" y="263" width="3.6" height="3.6" fill="#000000"/>
<rect x="291.3" y="269.7" width="3.6" height="3.6" fill="#000000"/>
<rect x="283.8" y="274.7" width="3.6" height="3.6" fill="#000000"/>
<rect x="282" y="279.7" width="3.6" height="3.6" fill="#000000"/>
<rect x="278.3" y="284" width="3.6" height="3.6" fill="#000000"/>
<rect x="276.2" y="286.7" width="3.6" height="3.6" fill="#000000"/>
<rect x="274.6" y="289.2" width="3.6" height="3.6" fill="#000000"/>
<rect x="272.7" y="291.4" width="3.6" height="3.6" fill="#000000"/>
<rect x="270.9" y="293.6" width="3.6" height="3.6" fill="#000000"/>
<rect x="269.7" y="295.8" width="3.6" height="3.6" fill="#000000"/>
<rect x="268.7" y="298" width="3.6" height="3.6" fill="#000000"/>
<rect x="267.5" y="300.2" width="3.6" height="3.6" fill="#000000"/>
<rect x="266.5" y="302.4" width="3.6" height="3.6" fill="#000000"/>
<circle cx="279.1" cy="282.1" r="1.95" fill="#dc1818"/>
<circle cx="278.61" cy="283.2" r="1.95" fill="#dc1818"/>
<circle cx="277.36" cy="284.31" r="1.95" fill="#dc1818"/>
<circle cx="277.51" cy="285.41" r="1.95" fill="#dc1818"/>
<circle cx="275.92" cy="286.55" r="1.95" fill="#dc1818"/>
<circle cx="276.26" cy="287.71" r="1.95" fill="#dc1818"/>
<circle cx="274.92" cy="288.86" r="1.95" fill="#dc1818"/>
<circle cx="274.76" cy="290.02" r="1.95" fill="#dc1818"/>
<circle cx="274.11" cy="291.18" r="1.95" fill="#dc1818"/>
<circle cx="273.18" cy="292.33" r="1.95" fill="#dc1818"/>
<circle cx="273.28" cy="293.5" r="1.95" fill="#dc1818"/>
<circle cx="271.86" cy="294.69" r="1.95" fill="#dc1818"/>
<circle cx="272.33" cy="295.89" r="1.95" fill="#dc1818"/>
<circle cx="270.92" cy="297.08" r="1.95" fill="#dc1818"/>
<circle cx="271.12" cy="298.29" r="1.95" fill="#dc1818"/>
<circle cx="270.4" cy="299.53" r="1.95" fill="#dc1818"/>
<circle cx="269.9" cy="300.76" r="1.95" fill="#dc1818"/>
<circle cx="269.92" cy="301.98" r="1.95" fill="#dc1818"/>
<circle cx="268.63" cy="303.17" r="1.95" fill="#dc1818"/>
<circle cx="269.04" cy="304.34" r="1.95" fill="#dc1818"/>
<circle cx="267.02" cy="305.1" r="1.95" fill="#dc1818"/>
<circle cx="266.7" cy="305.64" r="1.95" fill="#dc1818"/>
<circle cx="264.87" cy="305.76" r="1.95" fill="#dc1818"/>
<circle cx="354.8" cy="189.4" r="2.15" fill="#dc1818"/>
<circle cx="344.9" cy="207.8" r="2.15" fill="#dc1818"/>
<circle cx="329.5" cy="223.8" r="2.15" fill="#dc1818"/>
<circle cx="318.6" cy="237.8" r="2.15" fill="#dc1818"/>
<circle cx="307" cy="248.8" r="2.15" fill="#dc1818"/>
<circle cx="295.6" cy="257.9" r="2.15" fill="#dc1818"/>
<circle cx="289.4" cy="265.9" r="2.15" fill="#dc1818"/>
<circle cx="284.8" cy="272.1" r="2.15" fill="#dc1818"/>
<circle cx="281.3" cy="277.7" r="2.15" fill="#dc1818"/>
<circle cx="279.1" cy="282.1" r="2.15" fill="#dc1818"/>
<rect x="278.1" y="188.3" width="3.5" height="3.5" fill="#000000"/>
<circle cx="279.9" cy="203" r="2" fill="#dc1818"/>
<text x="294.3" y="193.8" font-size="10.3" text-anchor="start" fill="#1a1a1a" stroke="#1a1a1a">RGO</text>
<text x="294.3" y="206.6" font-size="10.3" text-anchor="start" fill="#1a1a1a" stroke="#1a1a1a">RGO-7-10</text>
<rect x="344.8" y="236.4" width="89.5" height="58.4" fill="#fff" stroke="#707070" stroke-width="0.8"/>
<path d="M354.7,294.8v-1.2M363.95,294.8v-1.2M373.2,294.8v-1.2M382.45,294.8v-1.2M391.7,294.8v-1.2M400.95,294.8v-1.2M410.2,294.8v-1.2M419.45,294.8v-1.2M428.7,294.8v-1.2M344.8,293.1h1.2M344.8,285.03h1.2M344.8,276.95h1.2M344.8,268.88h1.2M344.8,260.8h1.2M344.8,252.73h1.2M344.8,244.65h1.2" stroke="#707070" stroke-width="0.6"/>
<text x="354.7" y="301" font-size="5.4" text-anchor="middle" fill="#1a1a1a" stroke="#1a1a1a" font-weight="bold">0.40</text>
<text x="373.2" y="301" font-size="5.4" text-anchor="middle" fill="#1a1a1a" stroke="#1a1a1a" font-weight="bold">0.48</text>
<text x="391.7" y="301" font-size="5.4" text-anchor="middle" fill="#1a1a1a" stroke="#1a1a1a" font-weight="bold">0.56</text>
<text x="410.2" y="301" font-size="5.4" text-anchor="middle" fill="#1a1a1a" stroke="#1a1a1a" font-weight="bold">0.64</text>
<text x="428.7" y="301" font-size="5.4" text-anchor="middle" fill="#1a1a1a" stroke="#1a1a1a" font-weight="bold">0.72</text>
<text x="343.4" y="295" font-size="5.4" text-anchor="end" fill="#1a1a1a" stroke="#1a1a1a" font-weight="bold">0.0</text>
<text x="343.4" y="278.85" font-size="5.4" text-anchor="end" fill="#1a1a1a" stroke="#1a1a1a" font-weight="bold">0.4</text>
<text x="343.4" y="262.7" font-size="5.4" text-anchor="end" fill="#1a1a1a" stroke="#1a1a1a" font-weight="bold">0.8</text>
<text x="343.4" y="246.55" font-size="5.4" text-anchor="end" fill="#1a1a1a" stroke="#1a1a1a" font-weight="bold">1.2</text>
<text x="393.2" y="305.4" font-size="5.4" text-anchor="middle" fill="#1a1a1a" stroke="#1a1a1a" font-weight="bold">Z' (Ohm)</text>
<text transform="translate(332.8,269) rotate(-90)" font-size="5.4" font-weight="bold" text-anchor="middle" fill="#1a1a1a">-Z&#8217;&#8217;(Ohm)</text>
<rect x="353.1" y="252.1" width="3.4" height="3.4" fill="#000000"/>
<circle cx="354.8" cy="261.4" r="1.9" fill="#dc1818"/>
<text x="360.4" y="256.1" font-size="6.2" text-anchor="start" fill="#1a1a1a" stroke="#1a1a1a" font-weight="bold">RGO</text>
<text x="360.4" y="263.8" font-size="6.2" text-anchor="start" fill="#1a1a1a" stroke="#1a1a1a" font-weight="bold">RGO-7-10</text>
<rect x="354.65" y="292.55" width="1.5" height="1.5" fill="#000000"/>
<rect x="359.25" y="292.05" width="1.5" height="1.5" fill="#000000"/>
<rect x="364.25" y="291.55" width="1.5" height="1.5" fill="#000000"/>
<rect x="369.25" y="290.85" width="1.5" height="1.5" fill="#000000"/>
<rect x="374.25" y="290.15" width="1.5" height="1.5" fill="#000000"/>
<rect x="379.25" y="289.15" width="1.5" height="1.5" fill="#000000"/>
<rect x="383.65" y="287.85" width="1.5" height="1.5" fill="#000000"/>
<rect x="387.25" y="286.65" width="1.5" height="1.5" fill="#000000"/>
<rect x="390.25" y="284.65" width="1.5" height="1.5" fill="#000000"/>
<rect x="394.15" y="283.65" width="1.5" height="1.5" fill="#000000"/>
<rect x="397.05" y="282.85" width="1.5" height="1.5" fill="#000000"/>
<rect x="400.15" y="282.05" width="1.5" height="1.5" fill="#000000"/>
<rect x="402.35" y="280.05" width="1.5" height="1.5" fill="#000000"/>
<rect x="416.45" y="276.25" width="1.5" height="1.5" fill="#000000"/>
<rect x="419.25" y="272.65" width="1.5" height="1.5" fill="#000000"/>
<rect x="421.95" y="268.75" width="1.5" height="1.5" fill="#000000"/>
<rect x="423.45" y="264.05" width="1.5" height="1.5" fill="#000000"/>
<rect x="423.45" y="258.55" width="1.5" height="1.5" fill="#000000"/>
<rect x="422.05" y="253.45" width="1.5" height="1.5" fill="#000000"/>
<rect x="421.15" y="246.85" width="1.5" height="1.5" fill="#000000"/>
<rect x="422.35" y="239.05" width="1.5" height="1.5" fill="#000000"/>
<circle cx="352.2" cy="293.3" r="0.85" fill="#dc1818"/>
<circle cx="356" cy="292.8" r="0.85" fill="#dc1818"/>
<circle cx="360" cy="292.5" r="0.85" fill="#dc1818"/>
<circle cx="364.7" cy="291.9" r="0.85" fill="#dc1818"/>
<circle cx="368" cy="291.6" r="0.85" fill="#dc1818"/>
<circle cx="371.3" cy="291.2" r="0.85" fill="#dc1818"/>
<circle cx="374.5" cy="290.6" r="0.85" fill="#dc1818"/>
<circle cx="377.9" cy="290" r="0.85" fill="#dc1818"/>
<circle cx="381" cy="289.3" r="0.85" fill="#dc1818"/>
<circle cx="384.4" cy="288.4" r="0.85" fill="#dc1818"/>
<circle cx="387" cy="287.4" r="0.85" fill="#dc1818"/>
<circle cx="389.7" cy="286.3" r="0.85" fill="#dc1818"/>
<circle cx="393.6" cy="285" r="0.85" fill="#dc1818"/>
<circle cx="397.6" cy="282.6" r="0.85" fill="#dc1818"/>
<circle cx="400.9" cy="280.8" r="0.85" fill="#dc1818"/>
<circle cx="412.2" cy="277.3" r="0.85" fill="#dc1818"/>
<circle cx="416.1" cy="273.9" r="0.85" fill="#dc1818"/>
<circle cx="419.5" cy="270.3" r="0.85" fill="#dc1818"/>
<circle cx="422.3" cy="266.7" r="0.85" fill="#dc1818"/>
<circle cx="423.9" cy="265.6" r="0.85" fill="#dc1818"/>
<circle cx="425.9" cy="260.9" r="0.85" fill="#dc1818"/>
<circle cx="424.7" cy="256.2" r="0.85" fill="#dc1818"/>
<circle cx="424.4" cy="250" r="0.85" fill="#dc1818"/>
<path d="M352,293.4 C360,292.8 372,291.6 384.5,289.3" fill="none" stroke="#a81010" stroke-width="2.6"/>
<path d="M358,293.2 C364,292.9 372,292.1 382,290.3" fill="none" stroke="#200" stroke-width="1.3" stroke-dasharray="1.4,1.0"/>
<rect x="472.2" y="174.4" width="178.8" height="134.9" fill="none" stroke="#707070" stroke-width="1"/>
<path d="M472.3,309.3v3M517.15,309.3v3M562,309.3v3M606.85,309.3v3M651.7,309.3v3" stroke="#4a4a4a" stroke-width="1"/>
<path d="M494.73,309.3v2M539.58,309.3v2M584.42,309.3v2M629.28,309.3v2" stroke="#4a4a4a" stroke-width="1"/>
<path d="M472.2,309.75h-3M472.2,285.1h-3M472.2,260.45h-3M472.2,235.8h-3M472.2,211.15h-3M472.2,186.5h-3" stroke="#4a4a4a" stroke-width="1"/>
<path d="M472.2,297.43h-2M472.2,272.77h-2M472.2,248.12h-2M472.2,223.47h-2M472.2,198.82h-2" stroke="#4a4a4a" stroke-width="1"/>
<path d="M651,309.7h3M651,289h3M651,268.3h3M651,247.6h3M651,226.9h3M651,206.2h3M651,185.5h3" stroke="#4a4a4a" stroke-width="1"/>
<path d="M651,299.35h2M651,278.65h2M651,257.95h2M651,237.25h2M651,216.55h2M651,195.85h2" stroke="#4a4a4a" stroke-width="1"/>
<text x="467.8" y="313.1" font-size="10.8" text-anchor="end" fill="#1a1a1a" stroke="#1a1a1a">0</text>
<text x="467.8" y="288.45" font-size="10.8" text-anchor="end" fill="#1a1a1a" stroke="#1a1a1a">20</text>
<text x="467.8" y="263.8" font-size="10.8" text-anchor="end" fill="#1a1a1a" stroke="#1a1a1a">40</text>
<text x="467.8" y="239.15" font-size="10.8" text-anchor="end" fill="#1a1a1a" stroke="#1a1a1a">60</text>
<text x="467.8" y="214.5" font-size="10.8" text-anchor="end" fill="#1a1a1a" stroke="#1a1a1a">80</text>
<text x="467.8" y="189.85" font-size="10.8" text-anchor="end" fill="#1a1a1a" stroke="#1a1a1a">100</text>
<text x="655" y="313.05" font-size="10.8" text-anchor="start" fill="#1a1a1a" stroke="#1a1a1a">0</text>
<text x="655" y="292.35" font-size="10.8" text-anchor="start" fill="#1a1a1a" stroke="#1a1a1a">20</text>
<text x="655" y="271.65" font-size="10.8" text-anchor="start" fill="#1a1a1a" stroke="#1a1a1a">40</text>
<text x="655" y="250.95" font-size="10.8" text-anchor="start" fill="#1a1a1a" stroke="#1a1a1a">60</text>
<text x="655" y="230.25" font-size="10.8" text-anchor="start" fill="#1a1a1a" stroke="#1a1a1a">80</text>
<text x="655" y="209.55" font-size="10.8" text-anchor="start" fill="#1a1a1a" stroke="#1a1a1a">100</text>
<text x="655" y="188.85" font-size="10.8" text-anchor="start" fill="#1a1a1a" stroke="#1a1a1a">120</text>
<text x="472.3" y="322.3" font-size="10.8" text-anchor="middle" fill="#1a1a1a" stroke="#1a1a1a">0</text>
<text x="517.15" y="322.3" font-size="10.8" text-anchor="middle" fill="#1a1a1a" stroke="#1a1a1a">5000</text>
<text x="562" y="322.3" font-size="10.8" text-anchor="middle" fill="#1a1a1a" stroke="#1a1a1a">10000</text>
<text x="606.85" y="322.3" font-size="10.8" text-anchor="middle" fill="#1a1a1a" stroke="#1a1a1a">15000</text>
<text x="651.7" y="322.3" font-size="10.8" text-anchor="middle" fill="#1a1a1a" stroke="#1a1a1a">20000</text>
<text x="577.8" y="333.6" font-size="10.7" text-anchor="middle" fill="#1a1a1a" stroke="#1a1a1a">Cycle number</text>
<text transform="translate(449.6,251.3) rotate(-90)" font-size="10.5" text-anchor="middle" fill="#1a1a1a" stroke="#1a1a1a">Capacitance retention (%)</text>
<text transform="translate(681.6,250.1) rotate(-90)" font-size="10.5" text-anchor="middle" fill="#1a1a1a" stroke="#1a1a1a">Capacitance retention (%)</text>
<path d="M517,187.0V307.5" stroke="#000" stroke-width="1.8" stroke-dasharray="1.8,1.78"/>
<path d="M562.5,187.0V307.5" stroke="#000" stroke-width="1.8" stroke-dasharray="1.8,1.78"/>
<path d="M608.3,187.0V307.5" stroke="#000" stroke-width="1.8" stroke-dasharray="1.8,1.78"/>
<path d="M472.4,186.4 L474.5,186.4 L476.2,184.9 L477.8,186.4 L516.5,186.4" fill="none" stroke="#000" stroke-width="2.6" stroke-linejoin="round"/>
<path d="M472.4,206.3 L476.8,206.3 L478,208 L486.1,208.5 L488,210.6 L489.8,210 L494.8,210.5 L499.7,212 L502.2,211.2 L504.7,212.3 L512.1,212.1 L514.6,211 L517.5,211" fill="none" stroke="#000" stroke-width="2.4" stroke-linejoin="round"/>
<path d="M516.5,186.4 L533,186.4 L534.5,185.2 L536,186.4 L551,186.4 L553.6,182.6 L555.5,186.3 L557,185.4 L560.4,186.6" fill="none" stroke="#27d827" stroke-width="2.6" stroke-linejoin="round"/>
<path d="M517.3,206.2 L540.5,206.2 L542.6,204.3 L544.6,206.2 L562.5,206.2" fill="none" stroke="#27d827" stroke-width="2.6" stroke-linejoin="round"/>
<path d="M560.4,186.8 L601,186.8 L603,185.8 L605.6,186.8" fill="none" stroke="#1c22b4" stroke-width="2.6" stroke-linejoin="round"/>
<path d="M562.5,205.6 L575,205.6 L577,204.2 L579,205.6 L596,205.6 L599,206.4 L602,206.1 L607,205.6" fill="none" stroke="#1c22b4" stroke-width="2.6" stroke-linejoin="round"/>
<rect x="598.8" y="199" width="2.6" height="2.6" transform="rotate(45 600.1 200.3)" fill="#1c22b4"/>
<rect x="605" y="184.1" width="2.6" height="2.6" transform="rotate(45 606.3 185.4)" fill="#1c22b4"/>
<path d="M606,186.5 L612,186.5 L614,185.2 L616,186.5 L626,186.5 L628,185.2 L630,186.5 L640,187.3 L644,186.5 L651,186.5" fill="none" stroke="#2ee3ea" stroke-width="2.6" stroke-linejoin="round"/>
<path d="M607.5,203.6 L612,203.6 L614,203 L617,205.5 L620,207.3 L623,206.2 L628,204.8 L633,203.8 L640,203.5 L646,203.9 L651,204.5" fill="none" stroke="#2ee3ea" stroke-width="2.6" stroke-linejoin="round"/>
<path d="M487.4,186.6V196.6H473.6M479.6,193.1L473.4,196.6L479.6,200.1" fill="none" stroke="#e52420" stroke-width="1.4"/>
<path d="M633.3,205.2V215.1H650M644,211.6L650.2,215.1L644,218.6" fill="none" stroke="#e52420" stroke-width="1.4"/>
<text x="491.8" y="201.6" font-size="10.3" text-anchor="start" fill="#1a1a1a" stroke="#1a1a1a">RGO</text>
<text x="584" y="222.6" font-size="10.3" text-anchor="start" fill="#1a1a1a" stroke="#1a1a1a">RGO-7-10</text>
<text x="476" y="285" style="font-family:'Liberation Serif',serif" font-weight="bold" font-size="13" fill="#111">10A g<tspan font-size="8" dy="-5">-1</tspan></text>
<text x="520.8" y="285" style="font-family:'Liberation Serif',serif" font-weight="bold" font-size="13" fill="#2fd63a">20A g<tspan font-size="8" dy="-5">-1</tspan></text>
<text x="566.2" y="285" style="font-family:'Liberation Serif',serif" font-weight="bold" font-size="13" fill="#2a35c0">30A g<tspan font-size="8" dy="-5">-1</tspan></text>
<text x="610.2" y="285" style="font-family:'Liberation Serif',serif" font-weight="bold" font-size="13" fill="#3fdcc0">40A g<tspan font-size="8" dy="-5">-1</tspan></text>
<text x="0.9" y="18.6" font-size="21" text-anchor="start" fill="#111" stroke="#111">(a)</text>
<text x="225.4" y="18.7" font-size="21" text-anchor="start" fill="#111" stroke="#111">(b)</text>
<text x="443.6" y="18.6" font-size="21" text-anchor="start" fill="#111" stroke="#111">(c)</text>
<text x="0.6" y="173.2" font-size="21" text-anchor="start" fill="#111" stroke="#111">(d)</text>
<text x="224.6" y="173.6" font-size="21" text-anchor="start" fill="#111" stroke="#111">(e)</text>
<text x="443.5" y="173.8" font-size="21" text-anchor="start" fill="#111" stroke="#111">(f)</text>
</g>
</svg>
</body></html>
